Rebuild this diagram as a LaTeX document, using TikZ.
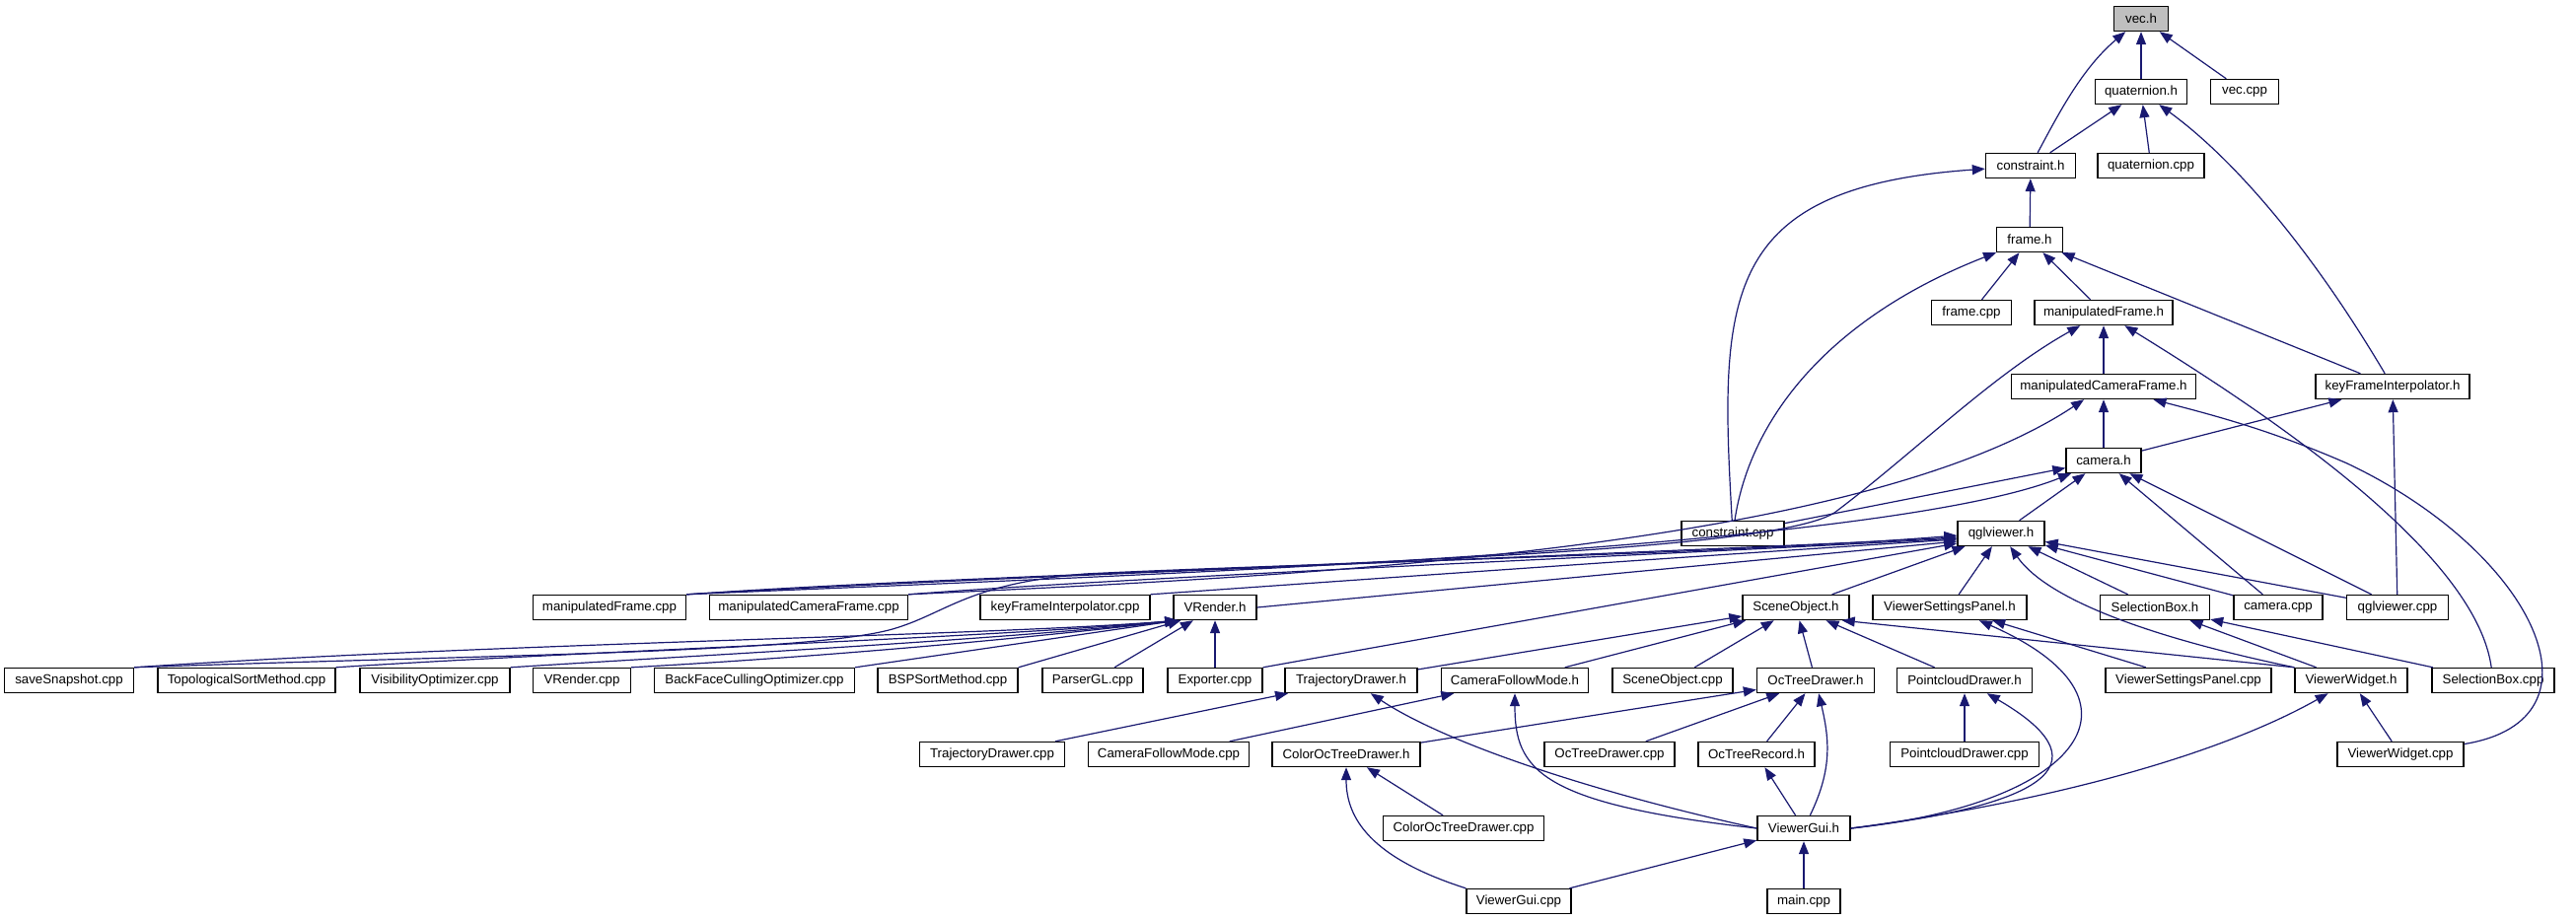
\documentclass[tikz,border=0pt]{standalone}
\usepackage{fontspec}
\setmainfont{Liberation Sans}
\usetikzlibrary{arrows.meta}
\definecolor{edgeblue}{HTML}{191970}
\definecolor{grayfill}{HTML}{BFBFBF}
\tikzset{
  file/.style={draw=black, line width=1.4pt, fill=white, minimum height=25pt, inner sep=0pt, font=\fontsize{13.3}{15}\selectfont},
  edge/.style={draw=edgeblue, line width=1.2pt, -{Triangle[length=13pt,width=10pt]}},
}
\begin{document}
\begin{tikzpicture}[x=1pt,y=1pt]
\useasboundingbox (0,0) rectangle (2612,-933);
% nodes
\node[file, minimum width=55pt, fill=grayfill] (vech) at (2171,-19) {vec.h};
\node[file, minimum width=93pt] (quath) at (2171,-93) {quaternion.h};
\node[file, minimum width=69pt] (veccpp) at (2276,-93) {vec.cpp};
\node[file, minimum width=91pt] (consh) at (2059,-168) {constraint.h};
\node[file, minimum width=108pt] (quatcpp) at (2181,-168) {quaternion.cpp};
\node[file, minimum width=67pt] (frameh) at (2058,-243) {frame.h};
\node[file, minimum width=81pt] (framecpp) at (1999,-317) {frame.cpp};
\node[file, minimum width=140pt] (mfh) at (2133,-317) {manipulatedFrame.h};
\node[file, minimum width=187pt] (mcfh) at (2133,-392) {manipulatedCameraFrame.h};
\node[file, minimum width=156pt] (kfih) at (2426,-392) {keyFrameInterpolator.h};
\node[file, minimum width=76pt] (camh) at (2133,-467) {camera.h};
\node[file, minimum width=104pt] (conscpp) at (1757,-541) {constraint.cpp};
\node[file, minimum width=88pt] (qglh) at (2029,-541) {qglviewer.h};
\node[file, minimum width=155pt] (mfcpp) at (618,-616) {manipulatedFrame.cpp};
\node[file, minimum width=201pt] (mcfcpp) at (820,-616) {manipulatedCameraFrame.cpp};
\node[file, minimum width=172pt] (kficpp) at (1080,-616) {keyFrameInterpolator.cpp};
\node[file, minimum width=84pt] (vrh) at (1232,-616) {VRender.h};
\node[file, minimum width=108pt] (soh) at (1821,-616) {SceneObject.h};
\node[file, minimum width=156pt] (vsph) at (1977,-616) {ViewerSettingsPanel.h};
\node[file, minimum width=111pt] (sbh) at (2185,-616) {SelectionBox.h};
\node[file, minimum width=90pt] (camcpp) at (2310,-616) {camera.cpp};
\node[file, minimum width=103pt] (qglcpp) at (2431,-616) {qglviewer.cpp};
\node[file, minimum width=131pt] (snap) at (70,-690) {saveSnapshot.cpp};
\node[file, minimum width=180pt] (topo) at (250,-690) {TopologicalSortMethod.cpp};
\node[file, minimum width=152pt] (visi) at (441,-690) {VisibilityOptimizer.cpp};
\node[file, minimum width=99pt] (vrcpp) at (590,-690) {VRender.cpp};
\node[file, minimum width=203pt] (backf) at (765,-690) {BackFaceCullingOptimizer.cpp};
\node[file, minimum width=142pt] (bsp) at (961,-690) {BSPSortMethod.cpp};
\node[file, minimum width=102pt] (parser) at (1108,-690) {ParserGL.cpp};
\node[file, minimum width=96pt] (exporter) at (1232,-690) {Exporter.cpp};
\node[file, minimum width=134pt] (tdh) at (1370,-690) {TrajectoryDrawer.h};
\node[file, minimum width=149pt] (cfmh) at (1536,-690) {CameraFollowMode.h};
\node[file, minimum width=122pt] (socpp) at (1696,-690) {SceneObject.cpp};
\node[file, minimum width=119pt] (octdh) at (1841,-690) {OcTreeDrawer.h};
\node[file, minimum width=137pt] (pch) at (1992,-690) {PointcloudDrawer.h};
\node[file, minimum width=168pt] (vspcpp) at (2219,-690) {ViewerSettingsPanel.cpp};
\node[file, minimum width=114pt] (vwh) at (2384,-690) {ViewerWidget.h};
\node[file, minimum width=124pt] (sbcpp) at (2528,-690) {SelectionBox.cpp};
\node[file, minimum width=147pt] (tdcpp) at (1006,-765) {TrajectoryDrawer.cpp};
\node[file, minimum width=163pt] (cfmcpp) at (1185,-765) {CameraFollowMode.cpp};
\node[file, minimum width=150pt] (coth) at (1365,-765) {ColorOcTreeDrawer.h};
\node[file, minimum width=132pt] (octdcpp) at (1632,-765) {OcTreeDrawer.cpp};
\node[file, minimum width=118pt] (octrh) at (1781,-765) {OcTreeRecord.h};
\node[file, minimum width=151pt] (pccpp) at (1992,-765) {PointcloudDrawer.cpp};
\node[file, minimum width=128pt] (vwcpp) at (2434,-765) {ViewerWidget.cpp};
\node[file, minimum width=163pt] (cotcpp) at (1484,-840) {ColorOcTreeDrawer.cpp};
\node[file, minimum width=94pt] (vgh) at (1829,-840) {ViewerGui.h};
\node[file, minimum width=106pt] (vgcpp) at (1540,-914) {ViewerGui.cpp};
\node[file, minimum width=74pt] (maincpp) at (1829,-914) {main.cpp};
% edges: top
\draw[edge] (quath) -- (vech);
\draw[edge] (veccpp) -- (vech);
\draw[edge] (consh) .. controls (2085,-120) and (2110,-70) .. (vech);
\draw[edge] (consh) -- (quath);
\draw[edge] (quatcpp) -- (quath);
\draw[edge] (kfih) .. controls (2330,-230) and (2250,-150) .. (quath);
\draw[edge] (frameh) -- (consh);
\draw[edge] (conscpp) .. controls (1743,-300) and (1745,-190) .. (consh);
\draw[edge] (framecpp) -- (frameh);
\draw[edge] (mfh) -- (frameh);
\draw[edge] (kfih) -- (frameh);
\draw[edge] (conscpp) .. controls (1775,-420) and (1860,-320) .. (frameh);
\draw[edge] (mcfh) -- (mfh);
\draw[edge] (sbcpp) .. controls (2510,-560) and (2300,-420) .. (mfh);
\draw[edge] (mfcpp.north east) .. controls (1100,-575) and (1780,-570) .. (1860,-520) .. controls (1940,-460) and (2020,-380) .. (mfh);
\draw[edge] (camh) -- (mcfh);
\draw[edge] (mcfcpp.north east) .. controls (1300,-585) and (1880,-560) .. (mcfh);
\draw[edge] (vwcpp) .. controls (2650,-730) and (2570,-560) .. (2380,-470) .. controls (2300,-435) and (2240,-420) .. (mcfh);
\draw[edge] (camh) -- (kfih);
\draw[edge] (qglcpp) -- (kfih);
% camera.h
\draw[edge] (conscpp) -- (camh);
\draw[edge] (qglh) -- (camh);
\draw[edge] (camcpp) -- (camh);
\draw[edge] (qglcpp) -- (camh);
\draw[edge] (mfcpp.north east) .. controls (1100,-585) and (1900,-560) .. (camh);
% qglviewer.h
\draw[edge] (mfcpp.north east) .. controls (1000,-585) and (1700,-560) .. ([yshift=-4pt]qglh.west);
\draw[edge] (mcfcpp.north east) .. controls (1150,-585) and (1700,-562) .. ([yshift=-5pt]qglh.west);
\draw[edge] (kficpp.north east) .. controls (1350,-590) and (1700,-565) .. ([yshift=-6pt]qglh.west);
\draw[edge] (vrh.east) -- ([yshift=-8pt]qglh.west);
\draw[edge] (exporter.north east) -- ([yshift=-10pt]qglh.west);
\draw[edge] (snap.north east) .. controls (500,-664) and (820,-662) .. (905,-638) .. controls (960,-622) and (980,-592) .. (1100,-582) .. controls (1300,-572) and (1750,-562) .. ([yshift=-2pt]qglh.west);
\draw[edge] (soh) -- (qglh);
\draw[edge] (vsph) -- (qglh);
\draw[edge] (vwh.north west) .. controls (2150,-640) and (2070,-600) .. (qglh);
\draw[edge] (sbh) -- (qglh);
\draw[edge] (camcpp) -- (qglh);
\draw[edge] (qglcpp) -- (qglh);
% VRender.h
\draw[edge] (snap.north east) .. controls (500,-652) and (1000,-645) .. ([xshift=5pt]vrh.south west);
\draw[edge] (topo.north east) .. controls (600,-660) and (1000,-647) .. ([xshift=5pt]vrh.south west);
\draw[edge] (visi.north east) .. controls (700,-665) and (1000,-650) .. ([xshift=5pt]vrh.south west);
\draw[edge] (vrcpp.north east) .. controls (800,-668) and (1000,-652) .. ([xshift=5pt]vrh.south west);
\draw[edge] (backf.north east) -- ([xshift=5pt]vrh.south west);
\draw[edge] (bsp.north east) -- ([xshift=8pt]vrh.south west);
\draw[edge] (parser) -- (vrh);
\draw[edge] (exporter) -- (vrh);
% SceneObject.h
\draw[edge] (tdh) -- (soh);
\draw[edge] (cfmh) -- (soh);
\draw[edge] (socpp) -- (soh);
\draw[edge] (octdh) -- (soh);
\draw[edge] (pch) -- (soh);
\draw[edge] (vwh.north west) -- ([xshift=-8pt]soh.south east);
% others
\draw[edge] (vspcpp) -- (vsph);
\draw[edge] (vgh.east) .. controls (2110,-815) and (2190,-710) .. (vsph);
\draw[edge] (vwh) -- (sbh);
\draw[edge] (sbcpp) -- (sbh);
\draw[edge] (vgh.east) .. controls (2090,-815) and (2130,-770) .. (pch);
\draw[edge] (pccpp) -- (pch);
\draw[edge] (vgh.east) .. controls (2100,-810) and (2260,-760) .. (vwh);
\draw[edge] (vwcpp) -- (vwh);
\draw[edge] (tdcpp) -- (tdh);
\draw[edge] (vgh.west) .. controls (1600,-800) and (1460,-750) .. (tdh);
\draw[edge] (cfmcpp) -- (cfmh);
\draw[edge] (vgh.west) .. controls (1560,-815) and (1536,-780) .. (cfmh);
\draw[edge] (coth) -- (octdh);
\draw[edge] (octdcpp) -- (octdh);
\draw[edge] (octrh) -- (octdh);
\draw[edge] (vgh) .. controls (1858,-780) and (1855,-750) .. (octdh);
\draw[edge] (cotcpp) -- (coth);
\draw[edge] (vgcpp.north west) .. controls (1390,-870) and (1365,-830) .. (coth);
\draw[edge] (vgh) -- (octrh);
\draw[edge] (vgcpp) -- (vgh);
\draw[edge] (maincpp) -- (vgh);
\end{tikzpicture}
\end{document}
